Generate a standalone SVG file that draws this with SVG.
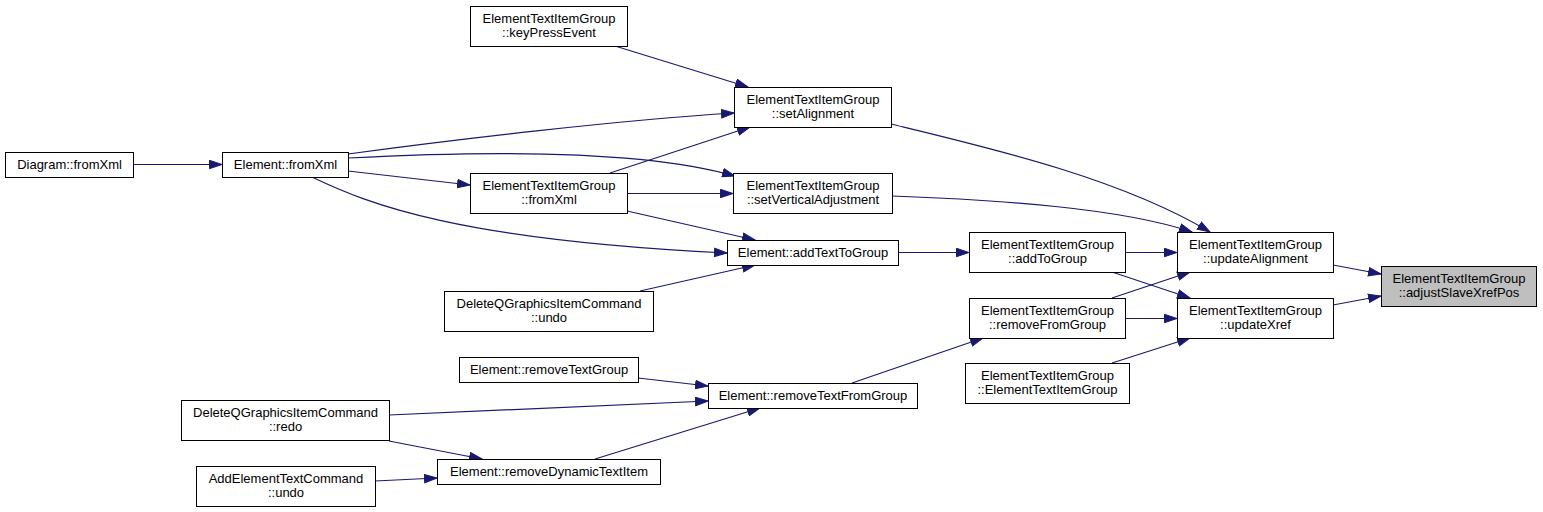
<svg xmlns="http://www.w3.org/2000/svg" width="1543" height="512" viewBox="0 0 1543 512">
<style>
.n rect{fill:#ffffff;stroke:#000000;stroke-width:1}
.n.t rect{fill:#bfbfbf}
.n text{font-family:"Liberation Sans",Arial,sans-serif;font-size:13px;fill:#000000;text-anchor:middle}
#edges path{fill:none;stroke:#191970;stroke-width:1.2;marker-end:url(#ah)}
</style>
<defs>
<marker id="ah" markerUnits="userSpaceOnUse" markerWidth="14" markerHeight="10" refX="13" refY="5" orient="auto">
<path d="M0.5,0.8 L13,5 L0.5,9.2 z" fill="#191970" stroke="#191970" stroke-width="1"/>
</marker>
</defs>
<rect width="1543" height="512" fill="#ffffff"/>
<g id="edges">
<path d="M133,164.5 L222,164.5"/>
<path d="M348,154 C450,140 620,120 734,113"/>
<path d="M348,158 C480,151 640,149 735,176"/>
<path d="M348,171 L470,185"/>
<path d="M312,177 C370,205 460,240 727,253"/>
<path d="M615,46 L748,87"/>
<path d="M610,173 L750,127"/>
<path d="M627,193.5 L733,193.5"/>
<path d="M627,211 L755,240"/>
<path d="M640,291 L755,265"/>
<path d="M891,124 C990,148 1120,178 1210,232"/>
<path d="M892,196 C1000,200 1120,208 1192,232"/>
<path d="M898,252.5 L969,252.5"/>
<path d="M1125,252.5 L1177,252.5"/>
<path d="M1112,272 L1190,298"/>
<path d="M1112,298 L1190,272"/>
<path d="M1125,318.5 L1177,318.5"/>
<path d="M1112,363 L1190,338"/>
<path d="M852,383 L983,338"/>
<path d="M1333,265 L1381,274"/>
<path d="M1333,305 L1381,296"/>
<path d="M638,378 L708,386"/>
<path d="M389,415 L708,401"/>
<path d="M595,459 L760,408"/>
<path d="M389,441 L482,459"/>
<path d="M375,481 L437,478"/>
</g>
<g id="n1" class="n"><rect x="5.5" y="152.5" width="128" height="25"/><text x="69.5" y="169">Diagram::fromXml</text></g>
<g id="n2" class="n"><rect x="222.5" y="152.5" width="126" height="25"/><text x="285.5" y="169">Element::fromXml</text></g>
<g id="n3" class="n"><rect x="470.5" y="6.5" width="157" height="40"/><text x="549" y="23">ElementTextItemGroup</text><text x="549" y="37">::keyPressEvent</text></g>
<g id="n4" class="n"><rect x="734.5" y="87.5" width="157" height="40"/><text x="813" y="104">ElementTextItemGroup</text><text x="813" y="118">::setAlignment</text></g>
<g id="n5" class="n"><rect x="470.5" y="173.5" width="157" height="40"/><text x="549" y="190">ElementTextItemGroup</text><text x="549" y="204">::fromXml</text></g>
<g id="n6" class="n"><rect x="733.5" y="173.5" width="159" height="40"/><text x="813" y="190">ElementTextItemGroup</text><text x="813" y="204">::setVerticalAdjustment</text></g>
<g id="n7" class="n"><rect x="727.5" y="240.5" width="171" height="25"/><text x="813" y="257">Element::addTextToGroup</text></g>
<g id="n8" class="n"><rect x="444.5" y="291.5" width="209" height="40"/><text x="549" y="308">DeleteQGraphicsItemCommand</text><text x="549" y="322">::undo</text></g>
<g id="n9" class="n"><rect x="459.5" y="357.5" width="179" height="25"/><text x="549" y="374">Element::removeTextGroup</text></g>
<g id="n10" class="n"><rect x="708.5" y="383.5" width="209" height="25"/><text x="813" y="400">Element::removeTextFromGroup</text></g>
<g id="n11" class="n"><rect x="181.5" y="400.5" width="208" height="40"/><text x="285.5" y="417">DeleteQGraphicsItemCommand</text><text x="285.5" y="431">::redo</text></g>
<g id="n12" class="n"><rect x="196.5" y="466.5" width="179" height="40"/><text x="286" y="483">AddElementTextCommand</text><text x="286" y="497">::undo</text></g>
<g id="n13" class="n"><rect x="437.5" y="459.5" width="223" height="25"/><text x="549" y="476">Element::removeDynamicTextItem</text></g>
<g id="n14" class="n"><rect x="969.5" y="232.5" width="156" height="40"/><text x="1047.5" y="249">ElementTextItemGroup</text><text x="1047.5" y="263">::addToGroup</text></g>
<g id="n15" class="n"><rect x="969.5" y="298.5" width="156" height="40"/><text x="1047.5" y="315">ElementTextItemGroup</text><text x="1047.5" y="329">::removeFromGroup</text></g>
<g id="n16" class="n"><rect x="965.5" y="363.5" width="164" height="40"/><text x="1047.5" y="380">ElementTextItemGroup</text><text x="1047.5" y="394">::ElementTextItemGroup</text></g>
<g id="n17" class="n"><rect x="1177.5" y="232.5" width="156" height="40"/><text x="1255.5" y="249">ElementTextItemGroup</text><text x="1255.5" y="263">::updateAlignment</text></g>
<g id="n18" class="n"><rect x="1177.5" y="298.5" width="156" height="40"/><text x="1255.5" y="315">ElementTextItemGroup</text><text x="1255.5" y="329">::updateXref</text></g>
<g id="n19" class="n t"><rect x="1381.5" y="266.5" width="155" height="40"/><text x="1459" y="283">ElementTextItemGroup</text><text x="1459" y="297">::adjustSlaveXrefPos</text></g>
</svg>
